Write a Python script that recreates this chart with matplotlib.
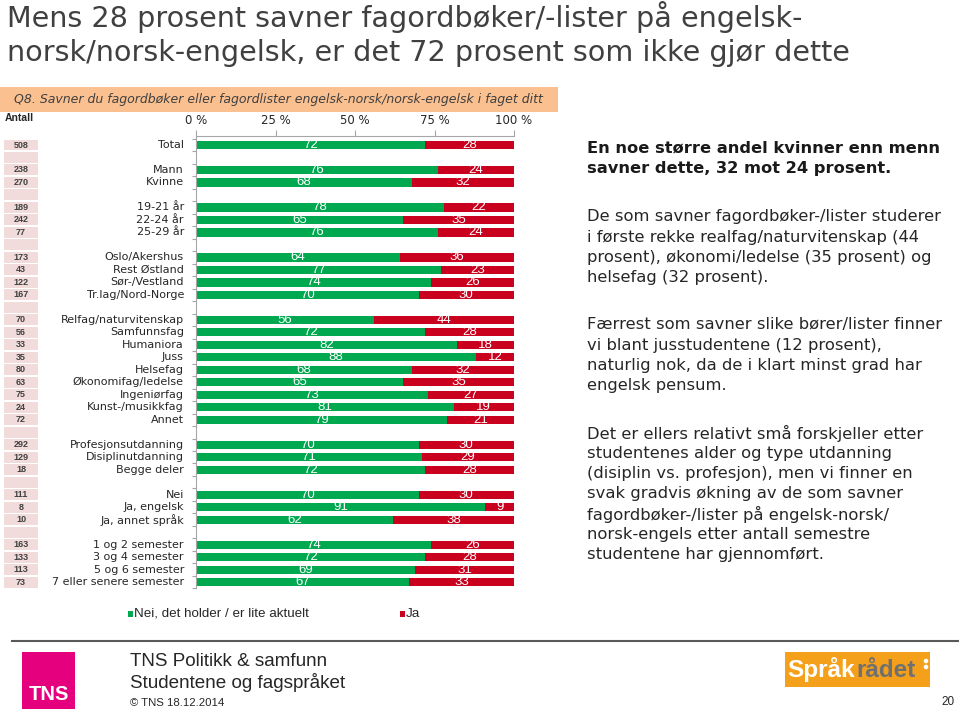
import numpy as np
import matplotlib
matplotlib.use("Agg")
import matplotlib.pyplot as plt
from matplotlib.patches import Rectangle, Circle

# --- data -----------------------------------------------------------------
labels = ["Total", "",
          "Mann", "Kvinne", "",
          "19-21 år", "22-24 år", "25-29 år", "",
          "Oslo/Akershus", "Rest Østland", "Sør-/Vestland", "Tr.lag/Nord-Norge", "",
          "Relfag/naturvitenskap", "Samfunnsfag", "Humaniora", "Juss", "Helsefag",
          "Økonomifag/ledelse", "Ingeniørfag", "Kunst-/musikkfag", "Annet", "",
          "Profesjonsutdanning", "Disiplinutdanning", "Begge deler", "",
          "Nei", "Ja, engelsk", "Ja, annet språk", "",
          "1 og 2 semester", "3 og 4 semester", "5 og 6 semester", "7 eller senere semester"]
nei = [72, None,
       76, 68, None,
       78, 65, 76, None,
       64, 77, 74, 70, None,
       56, 72, 82, 88, 68, 65, 73, 81, 79, None,
       70, 71, 72, None,
       70, 91, 62, None,
       74, 72, 69, 67]
ja = [28, None,
      24, 32, None,
      22, 35, 24, None,
      36, 23, 26, 30, None,
      44, 28, 18, 12, 32, 35, 27, 19, 21, None,
      30, 29, 28, None,
      30, 9, 38, None,
      26, 28, 31, 33]
antall = [508, None,
          238, 270, None,
          189, 242, 77, None,
          173, 43, 122, 167, None,
          70, 56, 33, 35, 80, 63, 75, 24, 72, None,
          292, 129, 18, None,
          111, 8, 10, None,
          163, 133, 113, 73]
xticks = [0, 25, 50, 75, 100]
legend_labels = ["Nei, det holder / er lite aktuelt", "Ja"]

title_lines = ["Mens 28 prosent savner fagordbøker/-lister på engelsk-",
               "norsk/norsk-engelsk, er det 72 prosent som ikke gjør dette"]
question = "Q8. Savner du fagordbøker eller fagordlister engelsk-norsk/norsk-engelsk i faget ditt"
bold_lines = ["En noe større andel kvinner enn menn",
              "savner dette, 32 mot 24 prosent."]
text_blocks = [
    ["De som savner fagordbøker-/lister studerer",
     "i første rekke realfag/naturvitenskap (44",
     "prosent), økonomi/ledelse (35 prosent) og",
     "helsefag (32 prosent)."],
    ["Færrest som savner slike bører/lister finner",
     "vi blant jusstudentene (12 prosent),",
     "naturlig nok, da de i klart minst grad har",
     "engelsk pensum."],
    ["Det er ellers relativt små forskjeller etter",
     "studentenes alder og type utdanning",
     "(disiplin vs. profesjon), men vi finner en",
     "svak gradvis økning av de som savner",
     "fagordbøker-/lister på engelsk-norsk/",
     "norsk-engels etter antall semestre",
     "studentene har gjennomført."],
]

GREEN = "#00A850"
RED = "#C9001E"
PINK = "#F2DCDB"
DARK = "#404040"
ARIAL = "Liberation Sans"
SPACED = "DejaVu Sans"

W, H = 959, 709
fig = plt.figure(figsize=(W / 100, H / 100), dpi=100)
fig.patch.set_facecolor("white")

# background axes in pixel coordinates
bg = fig.add_axes([0, 0, 1, 1])
bg.set_xlim(0, W)
bg.set_ylim(H, 0)
bg.axis("off")

# title
bg.text(7, 27, title_lines[0], fontsize=20.6, family=SPACED, color=DARK, va="baseline")
bg.text(7, 61, title_lines[1], fontsize=20.6, family=SPACED, color=DARK, va="baseline")

# question band
bg.add_patch(Rectangle((0, 87), 558, 25, color="#FAC090", lw=0))
bg.text(14, 99.5, question, fontsize=9, family=SPACED, style="italic", color=DARK, va="center")
bg.text(5, 118, "Antall", fontsize=7.5, family=ARIAL, weight="bold", color="#262626", va="center")

# slot geometry
n = len(labels)
slots = np.arange(n)
row_px = 12.49
top_px = 145 - 0.7 * row_px
bot_px = 145 + (n - 0.5) * row_px
ax_b = 1 - bot_px / H
ax_h = (bot_px - top_px) / H

# main bar axes
ax = fig.add_axes([196 / W, ax_b, 318 / W, ax_h])
ax.set_xlim(0, 100)
ax.set_ylim(n - 0.5, -0.7)
idx = [i for i in slots if nei[i] is not None]
nv = np.array([nei[i] for i in idx], dtype=float)
jv = np.array([ja[i] for i in idx], dtype=float)
ax.barh(idx, nv, height=0.66, color=GREEN, lw=0)
ax.barh(idx, jv, left=nv, height=0.66, color=RED, lw=0)
for i, a, b in zip(idx, nv, jv):
    ax.text(a / 2, i, "%d" % a, color="white", ha="center", va="center", fontsize=9.5, family=ARIAL)
    ax.text(a + b / 2, i, "%d" % b, color="white", ha="center", va="center", fontsize=9.5, family=ARIAL)

ax.xaxis.tick_top()
ax.set_xticks(xticks)
ax.set_xticklabels(["%d %%" % t for t in xticks], family=SPACED)
ax.set_yticks(np.arange(-0.5, n, 1))
ax.set_yticklabels([])
ax.tick_params(axis="x", direction="out", length=4, color="#A6A6A6", labelsize=8.5, pad=3, labelcolor="#262626")
ax.tick_params(axis="y", direction="out", length=3, color="#A6A6A6")
for side in ["right", "bottom"]:
    ax.spines[side].set_visible(False)
for side in ["top", "left"]:
    ax.spines[side].set_color("#A6A6A6")
    ax.spines[side].set_linewidth(0.8)

for i, lab in enumerate(labels):
    if lab:
        ax.text(-0.038, i, lab, transform=ax.get_yaxis_transform(), ha="right", va="center",
                fontsize=8.0, family=SPACED, color="#262626")

# count column
axn = fig.add_axes([4 / W, ax_b, 34 / W, ax_h])
axn.set_xlim(0, 1)
axn.set_ylim(n - 0.5, -0.7)
axn.barh(slots, [1] * n, height=0.88, color=PINK, lw=0)
for i, v in enumerate(antall):
    if v is not None:
        axn.text(0.5, i, str(v), ha="center", va="center", fontsize=6.5, family=ARIAL,
                 weight="bold", color=DARK)
axn.axis("off")

# legend
bg.add_patch(Rectangle((128, 611), 5, 6, color=GREEN, lw=0))
bg.text(134, 614, legend_labels[0], fontsize=9.6, family=ARIAL, color="#262626", va="center")
bg.add_patch(Rectangle((400, 611), 5, 6, color=RED, lw=0))
bg.text(406, 614, legend_labels[1], fontsize=9.6, family=ARIAL, color="#262626", va="center")

# right-hand text
for y, line in zip([148, 168], bold_lines):
    bg.text(587, y, line, fontsize=11.7, family=SPACED, weight="bold", color="#1a1a1a", va="center")
starts = [217, 325, 433]
for y0, block in zip(starts, text_blocks):
    for k, line in enumerate(block):
        bg.text(587, y0 + k * 20.3, line, fontsize=11.8, family=SPACED, color="#262626", va="center")

# footer
bg.plot([12, 959], [641, 641], color="#595959", lw=1.5)
bg.add_patch(Rectangle((22, 652), 53, 57, color="#E5007D", lw=0))
bg.text(48.5, 694, "TNS", fontsize=14.5, family=ARIAL, weight="bold", color="white", ha="center", va="center")
bg.text(130, 662, "TNS Politikk & samfunn", fontsize=13.6, family=ARIAL, color="#262626", va="center")
bg.text(130, 682, "Studentene og fagspråket", fontsize=13.6, family=ARIAL, color="#262626", va="center")
bg.text(130, 703, "© TNS 18.12.2014", fontsize=8.2, family=ARIAL, color="#262626", va="center")
bg.text(955, 702, "20", fontsize=8.5, family=ARIAL, color="#262626", ha="right", va="center")

bg.add_patch(Rectangle((785, 652), 145, 35, color="#F5A01A", lw=0))
bg.text(855, 677, "Språk", fontsize=17.5, family=ARIAL, weight="bold", color="white", ha="right", va="baseline")
bg.text(856, 677, "rådet", fontsize=17.5, family=ARIAL, weight="bold", color="#707070", ha="left", va="baseline")
bg.add_patch(Circle((926, 661), 1.6, color="white"))
bg.add_patch(Circle((926, 667), 1.6, color="white"))

fig.savefig("out.png", dpi=100)
